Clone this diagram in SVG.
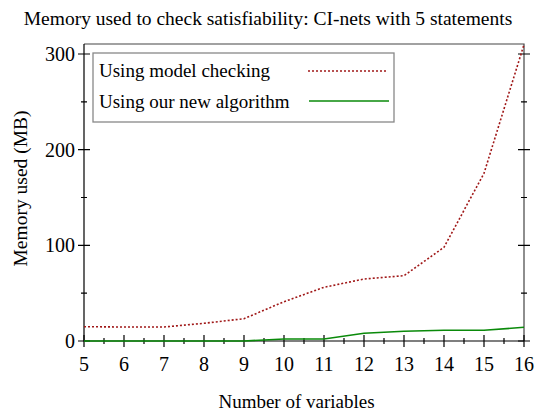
<svg xmlns="http://www.w3.org/2000/svg" width="536" height="416" viewBox="0 0 536 416">
<style>
text{font-family:"Liberation Serif","Times New Roman",serif;fill:#000}
.title{font-size:19.5px}
.lab{font-size:19px}
.tick{font-size:20px}
.ax{stroke:#000;stroke-width:1.2;fill:none}
.frame{stroke:#444;stroke-width:1.2;fill:none}
.mc{stroke:#a01818;stroke-width:1.6;stroke-dasharray:2 2;fill:none}
.na{stroke:#0a8a0a;stroke-width:1.6;fill:none}
</style>
<rect width="536" height="416" fill="#fff"/>
<text class="title" x="268" y="25" text-anchor="middle">Memory used to check satisfiability: CI-nets with 5 statements</text>
<g id="frame">
<path class="frame" d="M84 44H524V341"/>
<path class="ax" d="M84 44V341H524"/>
</g>
<g id="yticks" class="ax">
<path d="M78 341H90M78 245.3H90M78 149.7H90M78 54H90M81 293.2H87M81 197.5H87M81 101.8H87"/>
<path d="M518 341H530M518 245.3H530M518 149.7H530M518 54H530M521 293.2H527M521 197.5H527M521 101.8H527"/>
</g>
<g id="xticks" class="ax">
<path d="M84 335V347M124 335V347M164 335V347M204 335V347M244 335V347M284 335V347M324 335V347M364 335V347M404 335V347M444 335V347M484 335V347M524 335V347"/>
<path d="M104 338V344M144 338V344M184 338V344M224 338V344M264 338V344M304 338V344M344 338V344M384 338V344M424 338V344M464 338V344M504 338V344"/>
</g>
<g id="ylabels" class="tick" text-anchor="end">
<text x="75" y="347.5">0</text>
<text x="75" y="252">100</text>
<text x="75" y="156.5">200</text>
<text x="75" y="60.7">300</text>
</g>
<g id="xlabels" class="tick" text-anchor="middle">
<text x="84" y="371">5</text><text x="124" y="371">6</text><text x="164" y="371">7</text><text x="204" y="371">8</text><text x="244" y="371">9</text><text x="284" y="371">10</text><text x="324" y="371">11</text><text x="364" y="371">12</text><text x="404" y="371">13</text><text x="444" y="371">14</text><text x="484" y="371">15</text><text x="524" y="371">16</text>
</g>
<text class="lab" x="296.5" y="408" text-anchor="middle">Number of variables</text>
<text class="lab" transform="translate(27 188.5) rotate(-90)" text-anchor="middle" style="font-size:19.5px">Memory used (MB)</text>
<g id="connectors">
<polyline id="model-checking" class="mc" points="84,326.7 124,327 164,327 204,323.3 244,318.7 284,301.7 324,287.3 364,279 404,275.7 444,247.3 484,173.3 524,44.5"/>
<polyline id="new-algorithm" class="na" points="84,341 124,341 164,341 204,341 244,341 284,339 324,339 364,333.3 404,331.3 444,330.3 484,330.3 524,327.3"/>
</g>
<g id="legend">
<rect x="93" y="53" width="301" height="69" fill="#fff" stroke="#888" stroke-width="1.3"/>
<text class="lab" x="99" y="77">Using model checking</text>
<text class="lab" x="99" y="108">Using our new algorithm</text>
<line class="mc" x1="308" y1="71" x2="387" y2="71"/>
<line class="na" x1="309" y1="101" x2="389" y2="101"/>
</g>
</svg>
